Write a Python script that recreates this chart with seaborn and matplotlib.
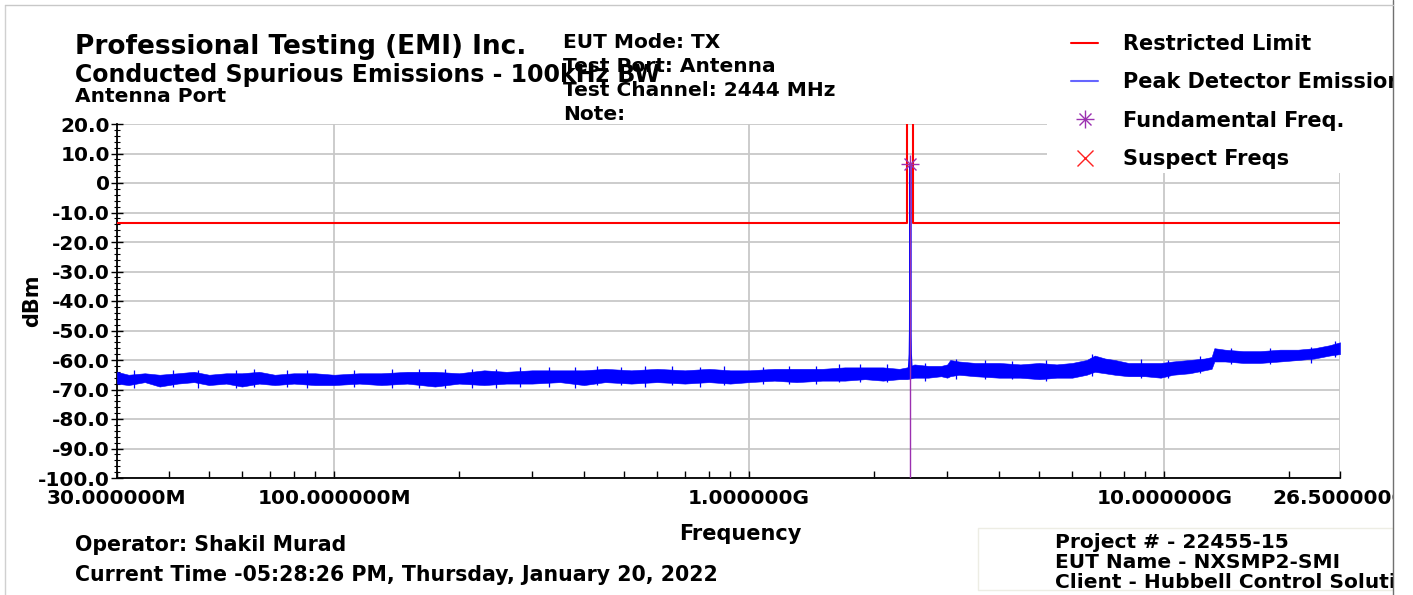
import matplotlib
matplotlib.use('Agg')
import matplotlib.pyplot as plt
import seaborn as sns
from matplotlib.lines import Line2D
from matplotlib.patches import Rectangle
from matplotlib.legend_handler import HandlerTuple
from matplotlib.ticker import FixedLocator, NullFormatter, MultipleLocator

# ---- data (MHz / dBm) ----
freq_mhz = [30, 32, 35, 38, 42, 46, 50, 55, 60, 66, 72, 80, 90, 100, 115, 130, 150,
            175, 200, 230, 260, 300, 350, 400, 450, 520, 600, 700, 800, 900, 1000,
            1150, 1300, 1500, 1700, 1900, 2100, 2300, 2400, 2500, 2700, 2900, 3000,
            3050, 3200, 3500, 4000, 4500, 5000, 5500, 6000, 6500, 6800, 7200, 7600,
            8200, 9000, 9800, 10500, 11500, 12500, 13000, 13200, 14000, 15500, 17000,
            19000, 21000, 23000, 25000, 26500]
noise_low = [-68.0, -68.5, -67.5, -69.0, -68.0, -67.5, -68.5, -68.0, -69.0, -68.0, -68.5,
             -68.0, -68.5, -68.5, -68.0, -68.5, -68.0, -69.0, -68.0, -68.5, -68.0, -68.0,
             -67.5, -68.5, -67.5, -68.0, -67.5, -68.0, -67.5, -68.0, -67.5, -67.0, -67.5,
             -67.0, -67.0, -66.5, -67.0, -66.5, -66.5, -66.0, -66.0, -65.5, -66.0, -65.5,
             -65.0, -65.5, -66.0, -66.0, -66.5, -66.0, -66.0, -65.0, -64.0, -64.5, -65.0,
             -65.5, -65.5, -66.0, -65.0, -64.5, -63.5, -63.0, -60.5, -60.5, -61.0, -61.0,
             -60.5, -60.0, -59.5, -58.5, -58.0]
noise_high = [-64.0, -65.0, -64.5, -65.0, -64.5, -64.0, -65.0, -64.5, -64.5, -64.0, -65.0,
              -64.5, -64.5, -65.0, -64.5, -64.5, -64.0, -64.0, -64.5, -63.5, -64.0, -63.5,
              -63.5, -63.5, -63.0, -63.5, -63.0, -63.5, -63.0, -63.5, -63.5, -63.0, -63.0,
              -63.0, -62.5, -62.5, -62.5, -63.0, -62.5, -61.5, -62.0, -62.0, -61.5, -60.0,
              -60.5, -61.0, -61.0, -61.5, -61.0, -61.5, -61.0, -60.0, -58.5, -59.5, -60.0,
              -61.0, -61.0, -61.0, -60.5, -60.0, -59.5, -59.0, -56.0, -56.5, -57.0, -57.0,
              -56.5, -56.5, -56.0, -55.0, -54.0]

# short noise spikes sticking out of the band
spike_freq = [33, 41, 47, 58, 64, 77, 86, 112, 138, 160, 185, 215, 245, 280, 330, 380,
              430, 490, 560, 650, 760, 870, 1080, 1250, 1450, 1650, 1850, 2150, 2650,
              3150, 3700, 4300, 5200, 6700, 8800, 10200, 12200, 14500, 18000, 22500, 25800]
spike_low = [-69.5, -69.0, -69.5, -69.5, -69.0, -69.0, -69.5, -69.0, -69.5, -69.5, -69.5,
             -69.5, -69.5, -69.0, -69.0, -69.5, -68.5, -68.5, -69.0, -68.5, -69.0, -68.5,
             -68.0, -68.0, -68.0, -67.5, -67.5, -67.5, -67.0, -66.5, -66.5, -66.5, -67.0,
             -65.5, -66.0, -66.0, -64.5, -61.5, -61.5, -61.0, -59.0]
spike_high = [-63.5, -63.5, -63.5, -63.5, -63.0, -63.5, -63.5, -63.5, -63.0, -63.0, -63.0,
              -63.0, -63.0, -62.5, -62.5, -62.5, -62.0, -62.5, -62.0, -62.0, -62.5, -62.0,
              -62.5, -62.0, -62.0, -61.5, -61.5, -61.5, -61.0, -59.5, -60.0, -60.5, -60.0,
              -58.0, -59.5, -60.0, -58.5, -56.0, -56.0, -55.5, -53.5]

peak_freq = [2425, 2436, 2440, 2443, 2444, 2445, 2448, 2452, 2462]
peak_dbm = [-63.0, -58.0, -50.0, -20.0, 6.3, -20.0, -50.0, -58.0, -63.0]

limit_freq = [30, 2400, 2400, 2483.5, 2483.5, 26500]
limit_dbm = [-13.7, -13.7, 40, 40, -13.7, -13.7]

fund_freq = 2444
fund_dbm = 6.3

x_ticks = [30, 100, 1000, 10000, 26500]
x_labels = ['30.000000M', '100.000000M', '1.000000G', '10.000000G', '26.500000G']
x_minor = [40, 50, 60, 70, 80, 90, 200, 300, 400, 500, 600, 700, 800, 900,
           2000, 3000, 4000, 5000, 6000, 7000, 8000, 9000, 20000]
y_ticks = [20, 10, 0, -10, -20, -30, -40, -50, -60, -70, -80, -90, -100]
y_labels = ['20.0', '10.0', '0', '-10.0', '-20.0', '-30.0', '-40.0', '-50.0',
            '-60.0', '-70.0', '-80.0', '-90.0', '-100.0']

legend_labels = ['Restricted Limit', 'Peak Detector Emission', 'Fundamental Freq.', 'Suspect Freqs']

sns.set_theme(style='white')
plt.rcParams['font.family'] = ['DejaVu Sans']
plt.rcParams['font.weight'] = 'bold'
plt.rcParams['text.color'] = 'black'
plt.rcParams['axes.labelcolor'] = 'black'

W, H = 1413, 595
fig = plt.figure(figsize=(W / 100, H / 100), dpi=100)


def fx(px):
    return px / W


def fy(py):
    return 1 - py / H


ax = fig.add_axes([fx(117), fy(478), fx(1340) - fx(117), fy(124) - fy(478)])
ax.set_xscale('log')

# emission trace
ax.fill_between(freq_mhz, noise_low, noise_high, color='#0000ff', edgecolor='#0000ff', lw=0.4, zorder=3)
ax.vlines(spike_freq, spike_low, spike_high, color='#0000ff', lw=0.9, zorder=3)
sns.lineplot(x=peak_freq, y=peak_dbm, ax=ax, color='#0000ff', lw=1.5, estimator=None, sort=False, zorder=3)
ax.vlines(fund_freq, -100, fund_dbm, color='#9b30b0', lw=1, zorder=4)

# limit line
sns.lineplot(x=limit_freq, y=limit_dbm, ax=ax, color='#ff0000', lw=1.5, estimator=None, sort=False, zorder=4)

# fundamental marker (asterisk)
ax.plot([fund_freq], [fund_dbm], ls='', marker='+', ms=13, mew=1, color='#9b30b0', zorder=5)
ax.plot([fund_freq], [fund_dbm], ls='', marker='x', ms=9, mew=1, color='#9b30b0', zorder=5)

ax.set_xlim(30, 26500)
ax.set_ylim(-100, 20)
ax.set_xticks(x_ticks, x_labels)
ax.xaxis.set_minor_locator(FixedLocator(x_minor))
ax.xaxis.set_minor_formatter(NullFormatter())
ax.set_yticks(y_ticks, y_labels)
ax.yaxis.set_minor_locator(MultipleLocator(2))

ax.grid(True, which='major', color='#c8c8c8', lw=1.3)
ax.set_axisbelow(True)
for s in ['top', 'right']:
    ax.spines[s].set_visible(False)
for s in ['left', 'bottom']:
    ax.spines[s].set_color('black')
    ax.spines[s].set_linewidth(1.3)

ax.tick_params(axis='x', which='both', bottom=True, direction='in', color='black',
               labelcolor='black', labelsize=14.5, pad=8)
ax.tick_params(axis='x', which='major', length=5, width=1)
ax.tick_params(axis='x', which='minor', length=5, width=1)
ax.tick_params(axis='y', which='both', left=True, direction='inout', color='black',
               labelcolor='black', labelsize=14.5, pad=1)
ax.tick_params(axis='y', which='major', length=8, width=1)
ax.tick_params(axis='y', which='minor', length=5, width=0.8)

ax.set_xlabel('Frequency', fontsize=15, fontweight='bold')
ax.xaxis.set_label_coords((740 - 117) / 1223, (478 - 524) / 354)
ax.set_ylabel('dBm', fontsize=15, fontweight='bold')
ax.yaxis.set_label_coords((42 - 117) / 1223, 0.5)

# header texts
fig.text(fx(75), fy(47), 'Professional Testing (EMI) Inc.', fontsize=19, va='center')
fig.text(fx(75), fy(75), 'Conducted Spurious Emissions - 100kHz BW', fontsize=17, va='center')
fig.text(fx(75), fy(97), 'Antenna Port', fontsize=14.5, va='center')
for txt, yy in zip(['EUT Mode: TX', 'Test Port: Antenna', 'Test Channel: 2444 MHz', 'Note:'], [43, 67, 91, 115]):
    fig.text(fx(563), fy(yy), txt, fontsize=14.5, va='center')

# footer texts
fig.text(fx(75), fy(545), 'Operator: Shakil Murad', fontsize=14.8, va='center')
fig.text(fx(75), fy(575), 'Current Time -05:28:26 PM, Thursday, January 20, 2022', fontsize=14.8, va='center')
for txt, yy in zip(['Project # - 22455-15', 'EUT Name - NXSMP2-SMI', 'Client - Hubbell Control Solutions'], [543, 563, 582]):
    fig.text(fx(1055), fy(yy), txt, fontsize=14.5, va='center')
fig.add_artist(Rectangle((fx(978), fy(590)), fx(1393) - fx(978), fy(528) - fy(590),
                         transform=fig.transFigure, facecolor='none', edgecolor='#ededE4', lw=1))

# legend with white backing over the plot
fig.add_artist(Rectangle((fx(1047), fy(173)), fx(1400) - fx(1047), fy(120) - fy(173),
                         transform=fig.transFigure, facecolor='white', edgecolor='none', zorder=3))
h_limit = Line2D([], [], color='#ff0000', lw=1.5)
h_peak = Line2D([], [], color='#6666ff', lw=1.5)
h_fund = (Line2D([], [], ls='', marker='+', ms=13, mew=1, color='#9b30b0'),
          Line2D([], [], ls='', marker='x', ms=9, mew=1, color='#9b30b0'))
h_susp = Line2D([], [], ls='', marker='x', ms=12, mew=1, color='#ff2020')
fig.legend([h_limit, h_peak, h_fund, h_susp], legend_labels,
           handler_map={tuple: HandlerTuple(ndivide=1)},
           loc='upper left', bbox_to_anchor=(fx(1071), fy(34)), frameon=False,
           fontsize=15, handlelength=1.3, handletextpad=1.2, labelspacing=0.88,
           borderpad=0, borderaxespad=0)

# page frame; everything past the right edge is cut off
fig.add_artist(Rectangle((fx(1394), 0), 1 - fx(1394), 1, transform=fig.transFigure,
                         facecolor='white', edgecolor='none', zorder=10))
fig.add_artist(Line2D([fx(1393), fx(1393)], [0, 1], transform=fig.transFigure, color='#707070', lw=1, zorder=11))
fig.add_artist(Line2D([fx(5), fx(5)], [0, fy(5)], transform=fig.transFigure, color='#d0d0d0', lw=1, zorder=11))
fig.add_artist(Line2D([fx(5), fx(1393)], [fy(5), fy(5)], transform=fig.transFigure, color='#c8c8c8', lw=1, zorder=11))

fig.savefig('out.png', dpi=100, facecolor='white')
